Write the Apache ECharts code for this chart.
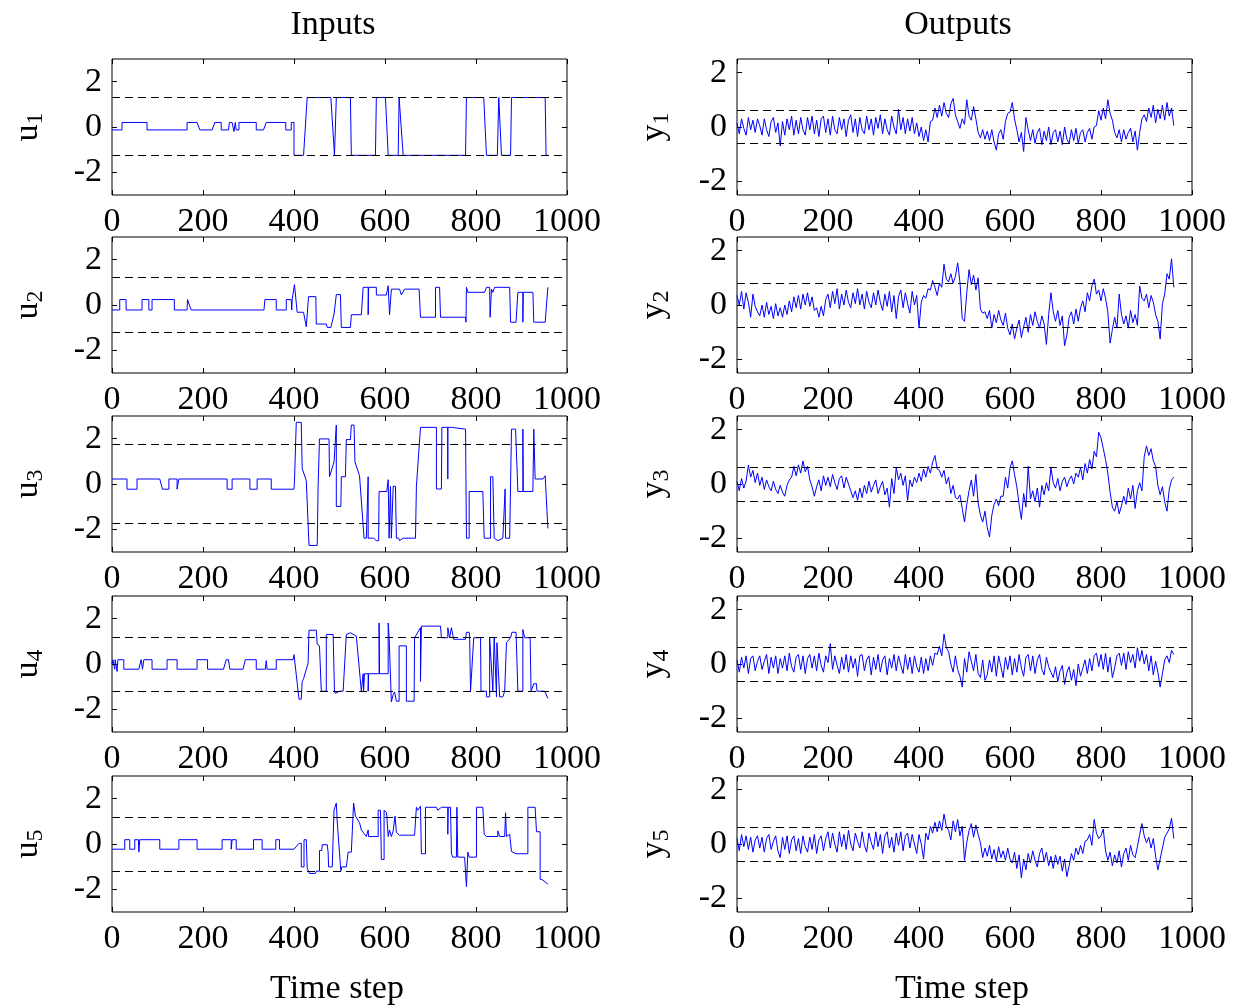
<!DOCTYPE html>
<html><head><meta charset="utf-8">
<script src="https://cdn.jsdelivr.net/npm/echarts@6/dist/echarts.min.js"></script>
<style>html,body{margin:0;padding:0;background:#fff}#c{width:1234px;height:1006px}</style>
</head><body><div id="c"></div>
<script>
// ---------- DATA ----------
const xTicks = [0, 200, 400, 600, 800, 1000];
const inTicks = [-2, 0, 2];
const outTicks = [-2, 0, 2];
const inNames = ['1','2','3','4','5'];
const outNames = ['1','2','3','4','5'];
// input signals: [time step, value] breakpoints
const u1 = [[0,-0.13],[22,-0.13],[22,0.2],[77,0.2],[77,-0.13],[165,-0.13],[165,0.2],[187,0.2],[193,-0.13],[220,-0.13],[226,0.2],[240,0.2],[240,-0.13],[256,-0.13],[258,0.2],[264,0.2],[268,-0.2],[271,0.2],[273,-0.13],[279,-0.13],[279,0.2],[317,0.2],[317,-0.13],[333,-0.13],[339,0.2],[382,0.2],[382,-0.13],[394,-0.13],[394,0.2],[400,0.2],[400,-1.25],[421,-1.25],[429,1.3],[481,1.3],[489,-1.25],[493,1.3],[524,1.3],[526,-1.25],[579,-1.25],[581,1.3],[601,1.3],[607,-1.25],[629,-1.25],[631,1.3],[640,-1.25],[777,-1.25],[779,1.3],[817,1.3],[823,-1.25],[847,-1.25],[850,1.3],[856,-1.25],[876,-1.25],[878,1.3],[952,1.3],[954,-1.25],[958,-1.25]];
const u2 = [[0,-0.22],[17,-0.22],[17,0.24],[31,0.24],[31,-0.22],[66,-0.22],[66,0.24],[81,0.24],[81,-0.22],[88,-0.22],[88,0.24],[137,0.24],[137,-0.22],[165,-0.22],[166,0.24],[174,-0.22],[334,-0.22],[336,0.24],[361,0.24],[361,-0.22],[383,-0.22],[383,0.24],[394,0.24],[395,-0.22],[396,0.24],[398,0.24],[401,0.9],[405,0.9],[407,-0.32],[421,-0.32],[427,-0.96],[432,0.37],[448,0.37],[449,-0.84],[471,-0.84],[473,-0.99],[481,-0.99],[488,-0.4],[493,0.46],[502,0.46],[504,-0.99],[524,-0.99],[526,-0.43],[548,-0.43],[552,0.78],[563,0.78],[563,-0.43],[564,0.78],[581,0.78],[581,0.44],[603,0.44],[607,0.85],[610,-0.43],[614,0.7],[632,0.7],[636,0.44],[643,0.7],[675,0.7],[678,-0.54],[711,-0.54],[711,0.78],[720,0.78],[722,-0.54],[777,-0.54],[778,-0.76],[779,0.78],[782,0.56],[819,0.56],[823,0.78],[830,0.78],[831,-0.54],[834,0.7],[837,0.56],[841,0.78],[874,0.78],[876,-0.76],[888,-0.76],[892,0.56],[903,0.56],[903,-0.76],[904,0.56],[925,0.56],[927,-0.76],[952,-0.76],[958,0.78]];
const u3 = [[0,0.22],[33,0.22],[33,-0.23],[55,-0.23],[55,0.22],[105,0.22],[111,-0.23],[125,-0.23],[125,0.22],[143,0.22],[143,-0.23],[147,-0.23],[147,0.22],[253,0.22],[253,-0.23],[264,-0.23],[264,0.22],[303,0.22],[303,-0.23],[319,-0.23],[319,0.22],[350,0.22],[350,-0.23],[400,-0.23],[401,0.1],[405,0.1],[405,2.72],[416,2.72],[418,0.68],[422,0.65],[427,0.15],[433,-2.71],[451,-2.71],[453,-0.1],[455,-0.1],[456,1.99],[477,1.99],[478,0.32],[482,0.32],[488,0.97],[492,0.97],[493,2.6],[493,-0.99],[503,-0.99],[504,0.32],[513,0.32],[515,1.96],[524,1.96],[526,2.6],[532,2.6],[534,0.97],[538,0.94],[544,0.36],[554,-2.39],[559,-2.39],[563,0.32],[563,-2.39],[575,-2.39],[581,-2.5],[586,-2.5],[587,-0.33],[604,-0.33],[607,0.19],[609,-2.39],[612,-0.1],[614,-2.39],[618,-0.1],[623,-0.1],[625,-2.39],[630,-2.39],[632,-2.5],[636,-2.5],[640,-2.39],[667,-2.39],[669,-0.1],[678,2.5],[713,2.5],[713,-0.22],[724,-0.22],[725,2.5],[738,2.5],[738,0.22],[738,2.5],[746,2.5],[749,2.42],[777,2.42],[779,-2.39],[785,-2.39],[785,-0.33],[815,-0.33],[818,-2.39],[832,-2.39],[832,0.32],[837,0.32],[840,-2.39],[848,-2.5],[859,-2.39],[864,-0.22],[865,-2.39],[874,-2.39],[878,2.42],[887,2.42],[892,-0.33],[903,-0.33],[903,2.42],[904,-0.33],[925,-0.33],[927,2.42],[930,2.42],[930,0.22],[947,0.22],[952,0.36],[958,-1.96]];
const u4 = [[0,0],[2,0.19],[6,0.19],[6,-0.23],[7,0.19],[11,-0.33],[13,0.19],[26,0.19],[26,-0.23],[59,-0.23],[64,0.19],[67,-0.23],[70,0.19],[88,0.19],[88,-0.23],[121,-0.23],[121,0.19],[143,0.19],[143,-0.23],[187,-0.23],[187,0.19],[210,0.19],[210,-0.23],[245,-0.23],[251,0.19],[256,0.19],[259,-0.23],[288,-0.23],[293,0.19],[317,0.19],[317,-0.23],[337,-0.23],[339,0.15],[341,-0.23],[361,-0.23],[361,0.19],[398,0.19],[400,0.41],[404,0.36],[409,-1.2],[411,-1.55],[416,-1.55],[418,-0.77],[421,-0.65],[431,0.04],[433,1.49],[449,1.49],[451,0.87],[453,0.87],[456,0.8],[460,-1.2],[471,-1.2],[471,1.3],[475,1.22],[486,1.3],[489,-1.2],[491,-1.3],[493,-1.33],[500,-1.2],[508,-1.2],[515,1.3],[524,1.38],[537,1.23],[548,-1.2],[552,-0.43],[553,-1.2],[555,-0.43],[563,-0.43],[563,-1.2],[564,-0.43],[587,-0.43],[587,1.81],[588,-0.43],[607,-0.43],[607,1.81],[609,1.22],[614,-1.67],[618,-1.35],[621,-1.23],[625,-1.64],[631,-1.64],[631,0.8],[647,0.8],[647,-1.64],[664,-1.64],[665,1.16],[669,1.09],[678,1.6],[678,-0.77],[680,1.67],[722,1.67],[724,1.16],[738,1.16],[738,1.6],[742,1.16],[746,1.6],[749,1.6],[751,1.09],[777,1.09],[779,1.4],[785,1.4],[786,1.22],[788,-1.2],[795,1.16],[810,1.16],[811,-1.2],[823,-1.2],[823,-1.45],[830,-1.45],[830,1.16],[837,-1.2],[840,1.16],[845,-1.45],[846,0.94],[852,-1.45],[859,-1.45],[863,-1.2],[867,0.94],[876,1.16],[879,1.4],[888,1.4],[892,-1.2],[903,-1.2],[903,1.52],[907,1.16],[919,1.16],[921,-1.2],[925,-1.2],[927,-0.87],[933,-0.87],[934,-1.2],[951,-1.2],[958,-1.52]];
const u5 = [[0,-0.23],[28,-0.23],[28,0.19],[39,0.19],[39,-0.23],[50,-0.23],[50,0.19],[58,0.19],[59,-0.36],[61,0.19],[105,0.19],[105,-0.23],[147,-0.23],[147,0.19],[187,0.19],[187,-0.23],[242,-0.23],[242,0.19],[262,0.19],[262,-0.23],[264,0.19],[273,0.19],[273,-0.23],[311,-0.23],[311,0.19],[330,0.19],[330,-0.23],[360,-0.23],[360,0.19],[368,0.19],[368,-0.23],[400,-0.23],[411,0.03],[416,0.03],[416,-1.01],[422,-1.01],[422,0.19],[427,0.19],[429,-1.06],[432,-1.12],[434,-1.3],[447,-1.3],[449,-1.2],[456,-1.2],[456,-0.29],[461,-0.29],[462,-0.03],[473,-0.03],[475,-0.36],[476,-1.01],[484,-1.01],[488,1.49],[491,1.49],[493,1.81],[495,0.97],[498,0.94],[503,-1.2],[505,-1.01],[515,-1.01],[519,-0.36],[526,-0.36],[531,1.81],[535,1.23],[544,0.94],[548,0.62],[555,0.43],[559,0.33],[563,0.33],[563,0.62],[564,0.33],[585,0.33],[585,1.49],[590,1.49],[592,-0.68],[598,-0.68],[598,1.49],[603,1.4],[604,1.23],[607,0.33],[610,0.62],[614,0.33],[618,0.58],[621,0.58],[622,1.23],[625,0.51],[632,0.39],[665,0.39],[669,1.62],[672,1.49],[678,1.67],[680,1.67],[680,-0.43],[689,-0.43],[689,1.62],[713,1.62],[716,1.49],[724,1.62],[738,1.62],[738,0.43],[739,1.62],[744,1.62],[746,-0.43],[749,-0.58],[757,-0.58],[758,1.62],[760,-0.58],[775,-0.58],[779,-1.88],[782,-0.36],[785,-0.58],[801,-0.58],[801,1.62],[815,1.62],[818,0.43],[823,0.33],[848,0.33],[848,0.58],[852,0.33],[863,0.33],[865,1.38],[867,0.33],[874,0.43],[878,-0.33],[888,-0.43],[914,-0.43],[914,1.62],[930,1.62],[933,0.54],[941,0.54],[941,-1.55],[947,-1.59],[958,-1.77]];
// output signals: one value every OUT_STEP time steps, starting at 0
const OUT_STEP = 5;
const y1 = [0.15,-0.25,0.3,-0.05,-0.3,0.35,-0.1,0.25,-0.2,0.3, 0.05,-0.3,0.3,-0.1,-0.35,0.2,0.35,-0.2,0.15,-0.7, 0.2,-0.3,0.3,-0.1,0.4,-0.3,0.25,-0.25,0.35,-0.1, -0.3,0.35,-0.1,0.4,-0.25,0.25,-0.35,0.3,0.4,-0.2, 0.3,-0.3,0.4,-0.1,-0.25,0.35,-0.1,0.3,-0.35,0.25, 0.45,-0.2,0.3,-0.35,0.35,-0.1,-0.25,0.4,-0.1,0.3, -0.3,0.35,-0.05,0.45,-0.25,0.3,-0.1,-0.3,0.4,0.0, -0.25,0.65,-0.1,0.35,-0.25,0.3,-0.15,0.35,-0.25,0.15, -0.35,0.0,-0.5,-0.1,-0.55,0.2,0.25,0.7,0.35,0.8, 0.4,0.9,0.5,0.35,0.85,1.05,0.45,0.2,-0.05,0.3, 0.1,1.0,0.4,0.25,0.75,0.3,-0.2,-0.4,-0.1,-0.45, -0.15,-0.5,-0.1,-0.55,-0.85,-0.25,-0.1,-0.45,0.2,0.5, 0.55,0.9,0.3,-0.1,-0.55,-0.2,-0.9,0.35,-0.1,-0.5, -0.1,-0.6,-0.2,-0.05,-0.65,-0.15,-0.5,0.0,-0.65,-0.2, -0.1,-0.55,-0.15,-0.65,0.0,-0.45,-0.6,-0.1,-0.5,-0.05, -0.6,-0.2,-0.1,-0.55,-0.2,-0.05,-0.45,0.0,0.05,0.6, 0.25,0.7,0.3,1.0,0.5,0.25,-0.2,-0.4,-0.1,-0.55, -0.1,-0.45,-0.2,-0.05,-0.55,-0.15,-0.85,-0.2,0.3,0.45, 0.2,0.7,0.35,0.8,0.15,0.65,0.3,0.8,0.25,0.9, 0.4,0.7,0.05];
const y2 = [0.35,0.0,0.5,-0.15,0.45,0.1,-0.45,0.4,-0.05,-0.25, -0.4,0.0,-0.45,0.1,-0.35,-0.05,-0.5,0.05,-0.4,-0.1, -0.45,0.0,-0.35,0.15,-0.25,0.3,-0.1,0.35,-0.15,0.4, 0.0,0.45,-0.05,0.3,-0.2,-0.1,-0.45,-0.05,-0.4,0.2, 0.4,-0.1,0.5,0.05,0.6,-0.15,0.4,0.0,0.55,0.1, -0.1,0.45,0.05,0.6,0.0,0.4,-0.15,0.5,0.1,-0.1, 0.45,0.0,0.55,0.1,-0.2,0.4,-0.05,0.5,-0.25,0.35, -0.5,0.3,0.55,-0.1,0.45,0.05,-0.3,0.5,0.0,0.35, -0.85,0.1,0.35,0.25,0.6,0.55,0.9,0.65,0.35,0.8, 0.65,1.5,0.95,0.85,1.15,0.8,1.05,1.55,0.85,-0.5, -0.6,0.45,1.3,0.75,1.1,0.55,1.0,-0.15,-0.3,-0.25, -0.5,-0.2,-0.85,-0.35,-0.65,-0.2,-0.55,-0.75,-0.3,-0.85, -1.1,-0.7,-1.25,-0.85,-0.55,-1.2,-0.8,-0.45,-1.0,-0.35, -0.75,-0.25,-0.6,-0.85,-0.4,-0.7,-1.45,-0.35,0.45,-0.25, -0.6,-0.2,-0.75,-0.4,-1.5,-1.1,-0.45,-0.25,-0.7,-0.15, -0.6,-0.1,0.15,-0.25,0.45,0.15,0.7,0.95,0.4,0.55, 0.15,0.6,0.25,-0.25,-1.4,-0.9,-0.45,-0.85,0.4,-0.35, -0.7,-0.4,-0.85,-0.2,-0.65,-0.35,-0.75,0.7,0.25,0.15, 0.4,-0.1,0.35,0.1,-0.35,-0.6,-1.25,0.05,0.4,1.15, 0.95,1.7,0.65];
const y3 = [0.1,-0.25,0.2,-0.15,0.1,0.7,0.25,0.5,0.05,0.4, -0.05,0.25,-0.2,0.15,-0.1,-0.25,0.1,-0.2,-0.35,-0.05, -0.3,-0.45,-0.05,0.15,0.25,0.65,0.3,0.7,0.4,0.85, 0.45,0.65,0.15,-0.1,-0.45,-0.1,0.15,-0.25,0.3,-0.05, 0.25,-0.1,0.35,0.05,-0.2,0.2,0.3,-0.15,0.25,0.0, -0.25,-0.5,-0.25,-0.6,-0.15,-0.5,-0.05,-0.35,0.1,-0.3, -0.05,0.15,-0.35,-0.1,0.1,-0.4,-0.15,-0.85,0.2,-0.35, 0.6,0.15,0.4,-0.05,0.3,-0.6,0.15,-0.1,0.25,0.05, 0.4,0.1,0.55,0.25,0.65,0.4,0.8,1.05,0.55,0.5, 0.25,0.5,0.0,0.25,-0.35,-0.05,-0.5,-0.55,-0.4,-0.9, -1.4,-0.75,-0.25,0.15,-0.45,0.35,-0.7,-1.15,-1.4,-1.0, -1.6,-1.95,-1.15,-0.75,-0.55,-0.8,-0.45,-0.45,0.25,-0.15, 0.6,0.85,0.35,-0.1,-0.75,-1.3,-0.35,-0.85,0.65,-0.55, -0.25,-0.65,-0.15,-0.85,-0.05,-0.4,0.05,-0.25,0.6,0.05, -0.15,0.2,-0.25,0.1,0.25,-0.1,0.15,0.3,0.0,0.4, 0.25,0.6,0.15,0.75,0.4,0.9,0.55,1.2,1.0,1.9, 1.7,1.3,0.9,0.4,-0.3,-0.85,-1.0,-0.65,-1.1,-0.8, -0.45,-0.75,-0.15,-0.55,-0.05,-0.9,-0.25,0.05,-0.25,1.0, 1.4,1.05,1.3,0.85,0.65,-0.05,-0.4,-0.1,-0.65,-1.0, -0.2,0.15,0.25];
const y4 = [0.15,-0.3,0.25,-0.15,0.3,-0.35,0.2,0.3,-0.25,0.1, 0.3,-0.2,0.1,0.35,-0.35,0.25,-0.15,0.3,-0.35,0.2, -0.15,0.3,-0.25,0.4,-0.1,-0.3,0.25,0.35,-0.2,0.3, -0.35,0.2,0.35,-0.15,0.3,-0.25,0.4,-0.05,-0.3,0.3, 0.05,0.75,-0.2,0.3,-0.05,-0.35,0.25,-0.2,0.35,-0.3, 0.3,-0.15,0.2,-0.45,0.3,0.35,-0.25,0.15,0.3,-0.4, 0.25,-0.2,0.35,-0.3,0.15,0.3,-0.4,0.2,-0.15,0.35, -0.25,0.3,-0.05,-0.35,0.35,-0.2,0.25,-0.35,0.3,-0.1, -0.3,0.25,-0.35,0.2,-0.25,0.3,-0.05,0.4,0.35,0.65, 0.3,1.1,0.6,0.45,0.0,-0.3,0.3,-0.2,-0.45,-0.85, 0.2,-0.3,0.45,0.1,-0.25,0.35,-0.35,-0.5,0.15,-0.6, -0.4,0.15,-0.3,0.3,-0.45,0.3,-0.1,-0.5,0.25,-0.2, 0.3,-0.4,0.2,-0.3,0.35,-0.15,-0.45,0.25,0.35,-0.25, 0.3,-0.35,0.15,0.35,-0.2,-0.4,0.25,-0.1,-0.3,-0.5, -0.1,-0.65,-0.25,-0.05,-0.75,-0.3,-0.1,-0.6,-0.2,-0.8, 0.0,-0.45,-0.15,0.15,-0.35,0.2,-0.25,0.3,0.4,-0.1, 0.35,-0.2,0.4,-0.3,0.25,-0.5,-0.15,0.3,0.4,-0.05, 0.4,-0.2,0.45,0.05,0.35,-0.15,0.6,0.1,0.5,0.0, 0.35,-0.25,0.3,-0.4,0.1,-0.3,-0.85,-0.35,0.15,0.3, 0.05,0.5,0.35];
const y5 = [0.2,-0.25,0.35,-0.1,0.3,-0.2,0.25,-0.3,0.15,0.3, -0.15,0.25,-0.3,0.2,0.35,-0.2,0.1,0.3,-0.25,-0.5, 0.25,-0.2,0.3,-0.35,0.15,0.3,-0.25,0.2,-0.35,0.3, -0.1,-0.3,0.25,-0.2,0.35,-0.35,0.15,0.3,-0.25,0.2, 0.45,-0.15,0.4,0.0,-0.3,0.45,-0.1,0.35,-0.2,0.5, 0.0,-0.25,0.4,0.1,-0.15,0.45,-0.05,-0.3,0.4,0.05, -0.2,0.45,-0.1,0.35,-0.35,0.3,0.45,-0.15,0.25,-0.3, 0.4,-0.05,0.45,-0.25,0.3,0.4,-0.15,0.35,0.0,-0.35, 0.35,0.0,-0.55,0.4,0.15,0.65,0.4,0.8,0.45,0.85, 0.5,1.1,0.65,0.5,0.15,0.85,0.45,0.9,0.3,0.65, -0.6,0.05,0.5,0.75,0.25,0.7,0.35,0.05,-0.5,-0.15, -0.45,-0.05,-0.55,-0.2,-0.65,-0.1,-0.5,-0.25,-0.6,-0.15, -0.55,-0.7,-0.3,-0.9,-0.4,-1.25,-0.55,-0.95,-0.35,-0.7, -0.25,-0.6,-0.85,-0.35,-0.15,-0.65,-0.3,-0.8,-0.45,-0.9, -0.4,-0.75,-0.45,-1.0,-0.55,-1.2,-0.8,-0.35,-0.6,-0.15, -0.4,-0.05,-0.35,0.1,0.15,0.35,-0.05,0.9,0.4,0.2, 0.3,0.55,-0.25,-0.6,-0.3,-0.8,-0.4,-0.7,-0.25,-0.85, -0.35,-0.15,-0.6,-0.05,-0.4,-0.5,-0.1,0.35,0.75,0.3, 0.05,0.25,-0.15,0.2,-0.45,-0.95,-0.55,-0.15,0.25,0.4, 0.55,0.95,0.2];
// dashed limit lines [upper, lower]
const inLimits = [[1.3,-1.25],[1.22,-1.22],[1.75,-1.75],[1.2,-1.2],[1.2,-1.2]];
const outLimits = [[0.6,-0.6],[0.8,-0.8],[0.63,-0.63],[0.63,-0.63],[0.63,-0.63]];

// ---------- CHART ----------
const FONT = "'Liberation Serif','Times New Roman',serif";
const FS = 34;
const rowTops = [59, 237, 416, 596, 776];
const H = 136, W = 455;
const colLeft = [112, 737];
const inputs = [u1,u2,u3,u4,u5];
const outputs = [y1,y2,y3,y4,y5];

const grid = [], xAxis = [], yAxis = [], series = [];
const tickStyle = {inside:true, length:5, lineStyle:{color:'#000', width:1}};
const noLine = {show:false, onZero:false};
function addPlot(col, row, data, lim, yMin, yMax, ticks, letter, sub) {
  const gi = grid.length;
  grid.push({left: colLeft[col], top: rowTops[row], width: W, height: H, show:true, borderColor:'#000', borderWidth:1, backgroundColor:'#fff'});
  const xi = xAxis.length;
  xAxis.push({type:'value', gridIndex:gi, min:0, max:1000, position:'bottom',
    axisLine:noLine, splitLine:{show:false},
    axisTick:Object.assign({customValues:xTicks}, tickStyle),
    axisLabel:{customValues:xTicks, formatter:(v)=>String(v), fontFamily:FONT, fontSize:FS, color:'#000', margin:10}});
  xAxis.push({type:'value', gridIndex:gi, min:0, max:1000, position:'top',
    axisLine:noLine, splitLine:{show:false},
    axisTick:Object.assign({customValues:xTicks}, tickStyle), axisLabel:{show:false}});
  const yi = yAxis.length;
  yAxis.push({type:'value', gridIndex:gi, min:yMin, max:yMax, position:'left',
    axisLine:noLine, splitLine:{show:false},
    axisTick:Object.assign({customValues:ticks}, tickStyle),
    axisLabel:{customValues:ticks, formatter:(v)=>String(v), fontFamily:FONT, fontSize:FS, color:'#000', margin:10},
    name:'{a|' + letter + '}{b|' + sub + '}', nameLocation:'middle', nameRotate:90, nameGap:col===0?64:63,
    nameTextStyle:{fontFamily:FONT, color:'#000', rich:{
      a:{fontFamily:FONT, fontSize:FS, color:'#000', lineHeight:40},
      b:{fontFamily:FONT, fontSize:24, color:'#000', lineHeight:22, verticalAlign:'bottom'}}}});
  yAxis.push({type:'value', gridIndex:gi, min:yMin, max:yMax, position:'right',
    axisLine:noLine, splitLine:{show:false},
    axisTick:Object.assign({customValues:ticks}, tickStyle), axisLabel:{show:false}});
  series.push({type:'line', xAxisIndex:xi, yAxisIndex:yi, data:data, showSymbol:false, symbol:'none',
    lineStyle:{color:'#0000ff', width:1}, animation:false, silent:true,
    markLine:{silent:true, symbol:['none','none'], label:{show:false}, animation:false,
      lineStyle:{color:'#000', width:1, type:[8,5]},
      data:[{yAxis:lim[0]},{yAxis:lim[1]}]}});
}
for (let r = 0; r < 5; r++) {
  addPlot(0, r, inputs[r], inLimits[r], -3, 3, inTicks, 'u', inNames[r]);
  const od = outputs[r].map((v, i) => [i * OUT_STEP, v]);
  addPlot(1, r, od, outLimits[r], -2.5, 2.5, outTicks, 'y', outNames[r]);
}

const titleStyle = {fontFamily:FONT, fontSize:FS, fontWeight:'normal', color:'#000'};
const chart = echarts.init(document.getElementById('c'), null, {renderer:'canvas'});
chart.setOption({
  backgroundColor:'#fff',
  animation:false,
  title:[
    {text:'Inputs', left:333, top:8, padding:0, textAlign:'center', textStyle:titleStyle},
    {text:'Outputs', left:958, top:8, padding:0, textAlign:'center', textStyle:titleStyle},
    {text:'Time step', left:337, top:972, padding:0, textAlign:'center', textStyle:titleStyle},
    {text:'Time step', left:962, top:972, padding:0, textAlign:'center', textStyle:titleStyle}
  ],
  grid, xAxis, yAxis, series
});
</script></body></html>
